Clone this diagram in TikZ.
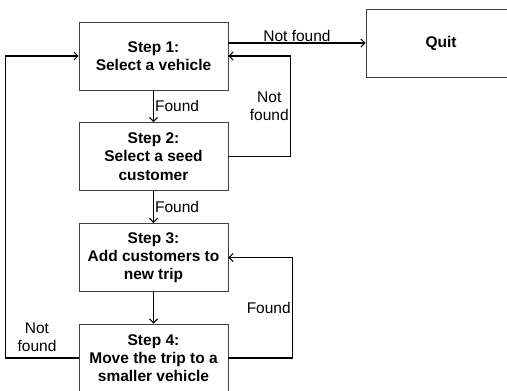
\documentclass[tikz,border=0pt]{standalone}
\usepackage{fontspec}
\setmainfont{Liberation Sans}
\usetikzlibrary{arrows.meta}

\begin{document}
\begin{tikzpicture}[x=1pt,y=-1pt,
	stepbox/.style={draw=black!75,line width=0.7pt,fill=white,minimum width=149pt,minimum height=68pt,align=center,inner sep=2pt,font=\fontsize{15.5}{18.3}\selectfont\bfseries},
	flow/.style={draw=black,line width=1.3pt,-{Straight Barb[length=4pt,width=8pt,line width=1.1pt]}},
	lbl/.style={inner sep=1pt,align=center,font=\fontsize{15.5}{18.3}\selectfont}]
	\useasboundingbox (0,0) rectangle (507,391);
	\node[stepbox] (s1) at (153.5,56) {Step 1:\\Select a vehicle};
	\node[stepbox] (s2) at (153.5,156.5) {Step 2:\\Select a seed\\customer};
	\node[stepbox] (s3) at (153.5,257.5) {Step 3:\\Add customers to\\new trip};
	\node[stepbox] (s4) at (153.5,358) {Step 4:\\Move the trip to a\\smaller vehicle};
	\node[stepbox,minimum width=150pt] (quit) at (441,43) {Quit};
	\draw[flow] (s1.east |- quit.west) -- (quit.west) node[lbl,midway,above] {Not found};
	\draw[flow] (s1) -- (s2) node[lbl,midway,right] {Found};
	\draw[flow] (s2) -- (s3) node[lbl,midway,right] {Found};
	\draw[flow] (s3) -- (s4);
	\draw[flow] (s2.east) -- ++(62,0) |- (s1.east) node[lbl,pos=0.25,left] {Not\\found};
	\draw[flow] (s4.east) -- ++(64,0) |- (s3.east) node[lbl,pos=0.25,left] {Found};
	\draw[flow] (s4.west) -- ++(-73,0) |- (s1.west);
	\node[lbl] (nf4) at (37,337) {Not\\found};
\end{tikzpicture}
\end{document}
